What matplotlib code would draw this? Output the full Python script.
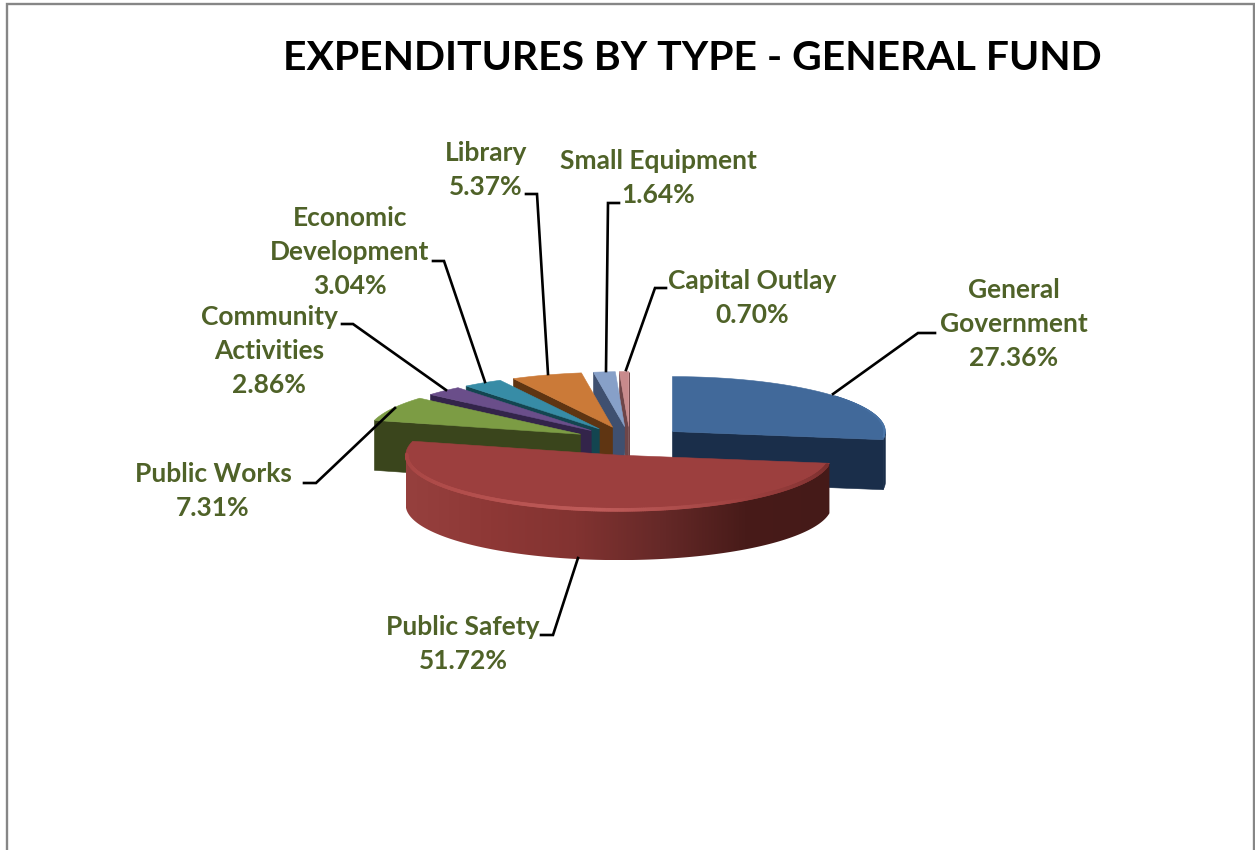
import numpy as np
import matplotlib
matplotlib.use("Agg")
import matplotlib.pyplot as plt
from matplotlib.collections import LineCollection
from matplotlib.colors import LinearSegmentedColormap
from matplotlib.patches import Polygon

plt.rcParams['font.family'] = ['Lato', 'DejaVu Sans']

TITLE = "EXPENDITURES BY TYPE - GENERAL FUND"
NAMES = ["General\nGovernment", "Public Safety", "Public Works", "Community\nActivities",
         "Economic\nDevelopment", "Library", "Small Equipment", "Capital Outlay"]
SHARES = [27.36, 51.72, 7.31, 2.86, 3.04, 5.37, 1.64, 0.70]

TOP_COLORS = ["#41699A", "#9C3F3E", "#7C9C44", "#6A4E8A", "#378CA6", "#CB7A38", "#87A0C8", "#C88A8C"]
FACE_COLORS = ["#1A2E4A", "#5A2220", "#3A451C", "#33244A", "#134550", "#5F3512", "#3F5070", "#6E4548"]
WALL_RAMP = ["#96403E", "#8E3836", "#823331", "#662928", "#481B19", "#451A18"]
RIM_RAMP = ["#7A2F2E", "#9C3F3E", "#BF5C5A", "#B24E4C", "#A54442"]
TEXT_COLOR = "#4F6228"

# pie geometry, in figure pixels
CENTER_X, CENTER_Y = 630, 441
RADIUS = 213
SQUASH = 0.258
DEPTH = 50
EXPLODE = 56

LABEL_POS = [(1014, 324), (463, 644), (213, 491), (269, 351),
             (350, 252), (486, 170), (658, 178), (752, 298)]
LEADERS = [
    [(935, 333), (918, 333), (833, 394)],
    [(541, 635), (553, 635), (578, 558)],
    [(304, 483), (316, 483), (395, 408)],
    [(342, 324), (353, 324), (446, 390)],
    [(433, 261), (444, 261), (485, 382)],
    [(526, 194), (537, 194), (548, 374)],
    [(619, 203), (608, 203), (606, 371)],
    [(666, 288), (655, 288), (626, 370)],
]


def ell(theta, cx, cy, r=RADIUS):
    # theta in degrees, clockwise from 12 o'clock
    t = np.radians(theta)
    return cx + r * np.sin(t), cy - r * SQUASH * np.cos(t)


def arc(t0, t1, cx, cy, r=RADIUS):
    th = np.linspace(t0, t1, max(int(abs(t1 - t0) * 2), 2))
    x, y = ell(th, cx, cy, r)
    return np.column_stack([x, y])


def add_poly(ax, pts, color):
    ax.add_patch(Polygon(pts, closed=True, facecolor=color, edgecolor=color, linewidth=0.4))


def draw_wall(ax, t0, t1, cx, cy, color):
    top = arc(t0, t1, cx, cy)
    bottom = top[::-1] + [0, DEPTH]
    pts = np.vstack([top, bottom])
    if color is not None:
        add_poly(ax, pts, color)
        return
    # curved wall of the big slice carries a horizontal shading
    cmap = LinearSegmentedColormap.from_list("wall", WALL_RAMP)
    patch = Polygon(pts, closed=True, facecolor="none", edgecolor="none")
    ax.add_patch(patch)
    xmin, xmax = pts[:, 0].min(), pts[:, 0].max()
    ymin, ymax = pts[:, 1].min(), pts[:, 1].max()
    im = ax.imshow(np.linspace(0, 1, 256)[None, :], cmap=cmap, aspect="auto",
                   extent=(xmin, xmax, ymax, ymin), zorder=patch.get_zorder())
    im.set_clip_path(patch)


def draw_rim(ax, t0, t1, cx, cy, ramp, width):
    # light line following the bevelled edge of the slice top
    pts = arc(t0, t1, cx, cy, RADIUS - 1.0)
    segs = np.stack([pts[:-1], pts[1:]], axis=1)
    cmap = LinearSegmentedColormap.from_list("rim", ramp)
    colors = cmap(np.linspace(0, 1, len(segs)))
    ax.add_collection(LineCollection(segs, colors=colors, linewidths=width, capstyle="round"))


fig = plt.figure(figsize=(12.55, 8.5), dpi=100, facecolor="white")
ax = fig.add_axes([0, 0, 1, 1])
ax.set_axis_off()

# frame around the chart, open at the bottom edge
ax.plot([7, 7, 1254, 1254], [850, 4, 4, 850], color="#868686", lw=1.7, solid_joinstyle="miter")

edges = np.concatenate([[0], np.cumsum(SHARES)]) * 3.6
starts, ends = edges[:-1], edges[1:]


def draw_slice(i):
    t0, t1 = starts[i], ends[i]
    mid = np.radians((t0 + t1) / 2)
    cx = CENTER_X + EXPLODE * np.sin(mid)
    cy = CENTER_Y - EXPLODE * SQUASH * np.cos(mid)
    apex = np.array([[cx, cy]])

    # cut faces turned towards the viewer
    for t, visible in ((t0, np.sin(np.radians(t0)) < 0), (t1, np.sin(np.radians(t1)) > 0)):
        if visible:
            outer = np.array([ell(t, cx, cy)])
            add_poly(ax, np.vstack([apex, outer, outer + [0, DEPTH], apex + [0, DEPTH]]), FACE_COLORS[i])

    w0, w1 = max(t0, 90), min(t1, 270)
    if w1 > w0:
        draw_wall(ax, w0, w1, cx, cy, None if i == 1 else FACE_COLORS[i])

    add_poly(ax, np.vstack([apex, arc(t0, t1, cx, cy)]), TOP_COLORS[i])
    return cx, cy


# back slices first, so each one covers the face of its neighbour
for i in range(len(SHARES) - 1, 1, -1):
    draw_slice(i)
cx, cy = draw_slice(0)
draw_rim(ax, 50, ends[0] - 3, cx, cy, ["#41699A", "#4D78AB"], 1.3)
cx, cy = draw_slice(1)
draw_rim(ax, starts[1] + 2, ends[1] - 14, cx, cy, RIM_RAMP, 2.6)

for pts in LEADERS:
    xs, ys = zip(*pts)
    ax.plot(xs, ys, color="black", lw=1.9, solid_joinstyle="miter")

for name, share, (x, y) in zip(NAMES, SHARES, LABEL_POS):
    ax.text(x, y, f"{name}\n{share:.2f}%", color=TEXT_COLOR, fontsize=19, fontweight="bold",
            ha="center", va="center", linespacing=1.48)

ax.text(692, 58, TITLE, color="black", fontsize=29.4, fontweight="bold", ha="center", va="center")

ax.set_xlim(0, 1255)
ax.set_ylim(850, 0)

fig.savefig("out.png", dpi=100, facecolor="white")
